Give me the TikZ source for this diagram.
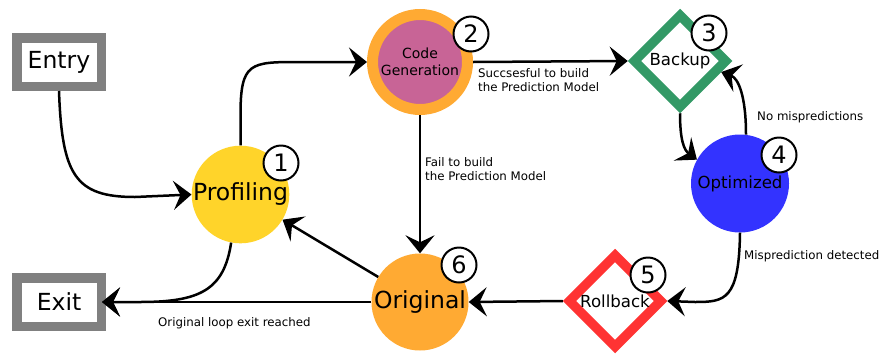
\documentclass[tikz,border=0pt]{standalone}
\usepackage{fontspec}
\setmainfont{DejaVu Sans}
\usetikzlibrary{shapes.geometric,arrows.meta}
\definecolor{cyellow}{HTML}{FFD42A}
\definecolor{corange}{HTML}{FFAA33}
\definecolor{cpink}{HTML}{C86496}
\definecolor{cgreen}{HTML}{339966}
\definecolor{cblue}{HTML}{3333FF}
\definecolor{cred}{HTML}{FF3333}
\definecolor{cgray}{HTML}{808080}
\begin{document}
\begin{tikzpicture}[x=1pt,y=-1pt,
  conn/.style={line width=2.5pt, -{Stealth[length=18pt,width=29pt,inset=7pt]}},
  badge/.style={circle, draw, line width=2pt, fill=white, minimum size=35pt, inner sep=0pt, font=\fontsize{24}{24}\selectfont},
  lbl/.style={font=\fontsize{11.8}{14}\selectfont, align=left, inner sep=0pt, anchor=north west},
  term/.style={rectangle, draw=cgray, line width=9.5pt, fill=white, minimum width=84.5pt, minimum height=48.5pt, inner sep=0pt, font=\fontsize{23.5}{23.5}\selectfont},
  bigstate/.style={circle, minimum size=97pt, inner sep=0pt, font=\fontsize{23.5}{23.5}\selectfont},
  midstate/.style={circle, minimum size=98pt, inner sep=0pt, font=\fontsize{16.6}{16.6}\selectfont},
  dia/.style={diamond, aspect=1, line width=9.5pt, fill=white, minimum width=95pt, minimum height=95pt, inner sep=0pt, font=\fontsize{16.6}{16.6}\selectfont}
]
\useasboundingbox (0,0) rectangle (882,354);

% nodes
\node[term] (entry) at (59,62) {Entry};
\node[term] (exit) at (59,302) {Exit};
\node[bigstate, fill=cyellow] (prof) at (240.5,194.5) {Profiling};
\node[circle, draw=corange, line width=11pt, fill=cpink, minimum size=95pt, inner sep=0pt, align=center,
      font=\fontsize{14}{17}\selectfont] (cg) at (420,62) {Code\\Generation};
\node[dia, draw=cgreen] (backup) at (680,61) {Backup};
\node[midstate, fill=cblue] (opt) at (740,183.5) {Optimized};
\node[dia, draw=cred] (rb) at (615,301) {Rollback};
\node[bigstate, fill=corange] (orig) at (420,302) {Original};

% connectors
\draw[conn] (entry.south) .. controls (62,175) and (75,197) .. (135,197) -- (prof.west);
\draw[conn] (prof.north) -- (240.5,115) .. controls (240.5,62) and (250,62) .. (300,62) -- (cg.west);
\draw[conn] (cg.east) -- (backup.west);
\draw[conn] (cg.south) -- (orig.north);
\draw[conn] (backup.south) .. controls (680,140) and (684,150) .. (opt.151);
\draw[conn] (opt.83) .. controls (746,95) and (738,78) .. (backup.-15);
\draw[conn] (opt.south) .. controls (739,300) and (725,302) .. (695,302) -- (rb.east);
\draw[conn] (rb.west) -- (orig.east);
\draw[conn] (orig) -- (prof);
\draw[conn, shorten >=-4pt] (orig.west) -- (exit.east);
\draw[conn, shorten >=-4pt] (prof.259) .. controls (224,290) and (200,302) .. (140,302) -- (exit.east);

% labels
\node[lbl] (l1) at (478,68) {Succsesful to build\\the Prediction Model};
\node[lbl] (l2) at (425,157) {Fail to build\\the Prediction Model};
\node[lbl] (l3) at (757,111) {No mispredictions};
\node[lbl] (l4) at (744,250) {Misprediction detected};
\node[lbl] (l5) at (158,317) {Original loop exit reached};

% badges
\node[badge] (b1) at (281,163) {1};
\node[badge] (b2) at (471,34) {2};
\node[badge] (b3) at (709,33) {3};
\node[badge] (b4) at (779,155) {4};
\node[badge] (b5) at (648,275) {5};
\node[badge] (b6) at (459,265) {6};
\end{tikzpicture}
\end{document}
